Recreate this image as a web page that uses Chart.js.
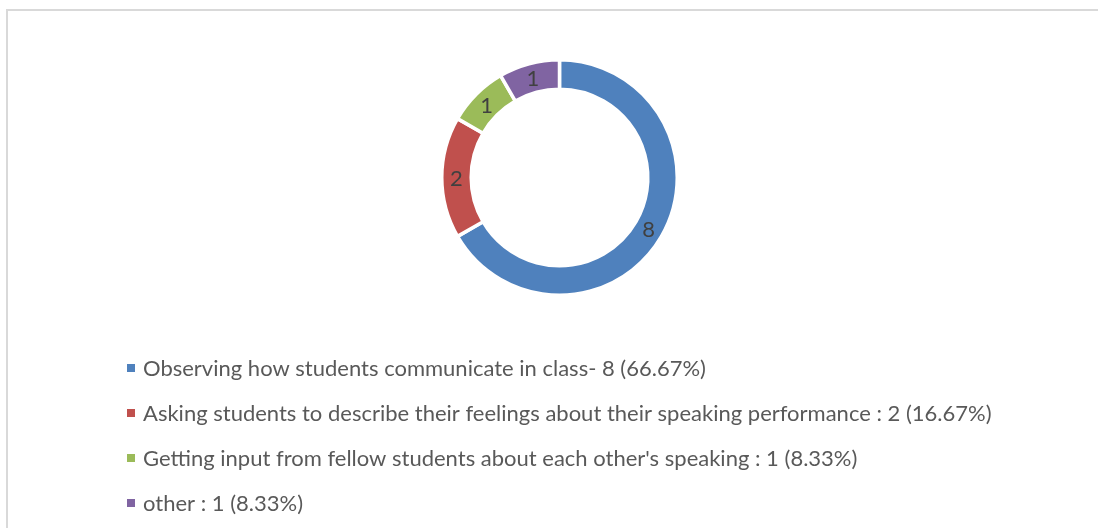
<!DOCTYPE html>
<html>
<head>
<meta charset="utf-8">
<script src="https://cdn.jsdelivr.net/npm/chart.js@4/dist/chart.umd.min.js"></script>
<style>
  html, body { margin: 0; padding: 0; background: #fff; }
  canvas { display: block; }
</style>
</head>
<body>
<canvas id="grafico" width="1098" height="528"></canvas>
<script>
// datos de la grafica
const categorias = [
  "Observing how students communicate in class",
  "Asking students to describe their feelings about their speaking performance",
  "Getting input from fellow students about each other's speaking",
  "other"
];
const valores = [8, 2, 1, 1];
const porcentajes = ["66.67%", "16.67%", "8.33%", "8.33%"];
const separadores = ["- ", " : ", " : ", " : "];
const colores = ["#4F81BD", "#C0504D", "#9BBB59", "#8064A2"];

const fuente = "Lato, 'Noto Sans', sans-serif";

// marco gris arriba y a la izquierda
const marco = {
  id: "marco",
  beforeDraw(chart) {
    const ctx = chart.ctx;
    ctx.save();
    ctx.fillStyle = "#d9d9d9";
    ctx.fillRect(6, 9, chart.width - 6, 2);
    ctx.fillRect(6, 9, 2, chart.height - 9);
    ctx.restore();
  }
};

// numeros sobre cada segmento
const etiquetas = {
  id: "etiquetas",
  afterDatasetsDraw(chart) {
    const ctx = chart.ctx;
    const meta = chart.getDatasetMeta(0);
    ctx.save();
    ctx.font = "22px " + fuente;
    ctx.fillStyle = "#404040";
    ctx.textAlign = "center";
    ctx.textBaseline = "middle";
    meta.data.forEach((arco, i) => {
      const p = arco.getCenterPoint();
      ctx.fillText(String(chart.data.datasets[0].data[i]), p.x, p.y + 1);
    });
    ctx.restore();
  }
};

// leyenda en columna, alineada a la izquierda
const leyenda = {
  id: "leyenda",
  afterDraw(chart) {
    const ctx = chart.ctx;
    const filas = [368, 413, 458, 503];
    ctx.save();
    ctx.font = "22px " + fuente;
    ctx.textBaseline = "middle";
    ctx.textAlign = "left";
    chart.data.labels.forEach((nombre, i) => {
      const y = filas[i];
      ctx.fillStyle = colores[i];
      ctx.fillRect(127, y - 4, 8, 8);
      ctx.fillStyle = "#595959";
      const texto = nombre + separadores[i] + valores[i] + " (" + porcentajes[i] + ")";
      ctx.fillText(texto, 143, y + 1);
    });
    ctx.restore();
  }
};

const ctx = document.getElementById("grafico").getContext("2d");
new Chart(ctx, {
  type: "doughnut",
  data: {
    labels: categorias,
    datasets: [{
      data: valores,
      backgroundColor: colores,
      borderColor: "#ffffff",
      borderWidth: 3.5,
      hoverOffset: 0
    }]
  },
  options: {
    responsive: false,
    animation: false,
    cutout: "75%",
    layout: {
      padding: { top: 58, bottom: 231, left: 21, right: 0 }
    },
    plugins: {
      legend: { display: false },
      tooltip: { enabled: false }
    }
  },
  plugins: [marco, etiquetas, leyenda]
});
</script>
</body>
</html>
